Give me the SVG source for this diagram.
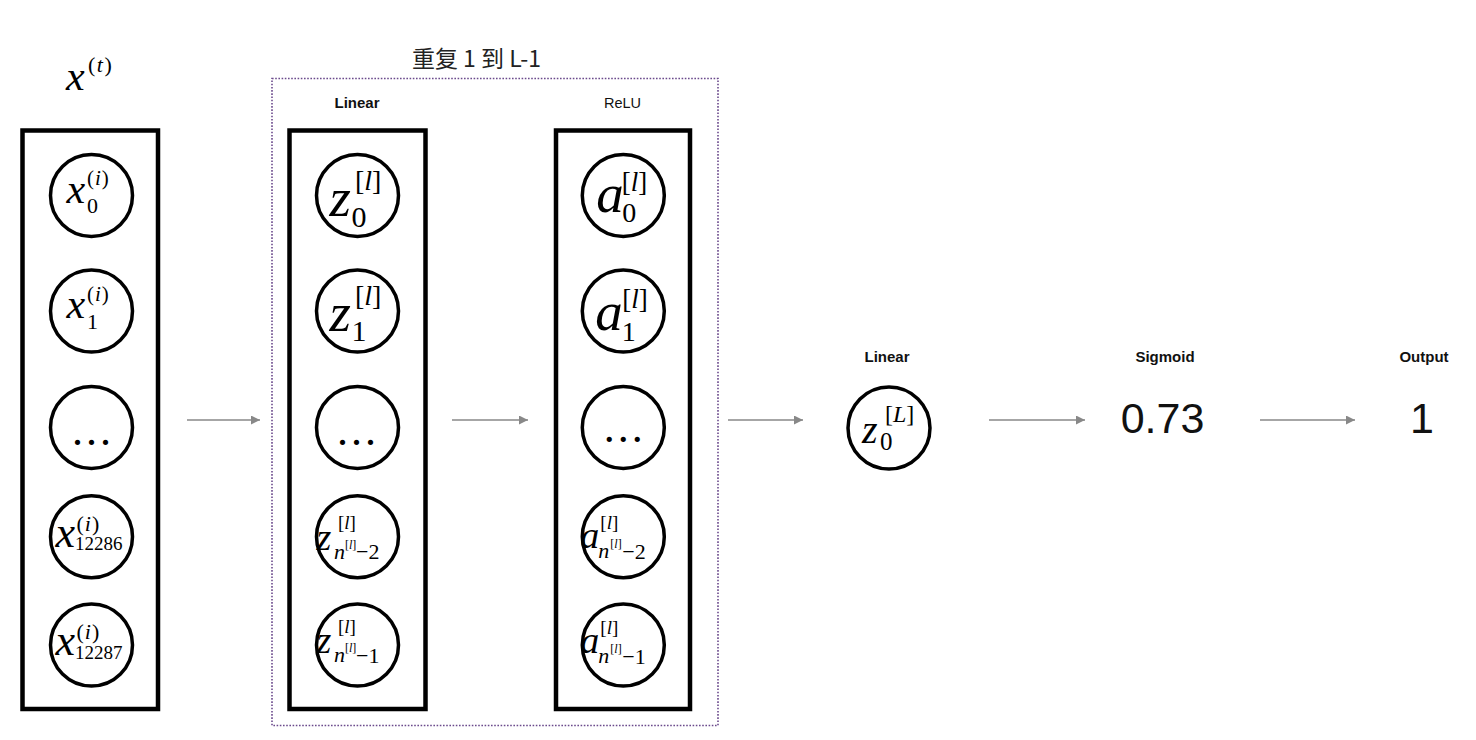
<svg xmlns="http://www.w3.org/2000/svg" width="1476" height="740" viewBox="0 0 1476 740">
<style>
.box{fill:none;stroke:#000;stroke-width:4.5}
.node{fill:#fff;stroke:#000;stroke-width:3.5}
.m{font-family:"Liberation Serif","Times New Roman",serif;font-style:italic;fill:#000}
.r{font-family:"Liberation Serif","Times New Roman",serif;font-style:normal;fill:#000}
.it{font-style:italic}
.lbl{font-family:"Liberation Sans",Arial,sans-serif;font-weight:bold;font-size:15px;fill:#111;text-anchor:middle}
.lbln{font-family:"Liberation Sans",Arial,sans-serif;font-size:14.5px;fill:#111;text-anchor:middle}
.big{font-family:"Liberation Sans",Arial,sans-serif;font-size:43px;fill:#111;text-anchor:middle}
.dots{font-family:"Liberation Serif",serif;font-size:44px;letter-spacing:3px;fill:#000}
.arrow{stroke:#888;stroke-width:1.6;fill:none;marker-end:url(#ah)}
</style>
<defs>
<marker id="ah" markerUnits="userSpaceOnUse" markerWidth="9" markerHeight="9" refX="9" refY="4.5" orient="auto">
<path d="M0,0 L9,4.5 L0,9 z" fill="#888"/>
</marker>
</defs>
<rect width="1476" height="740" fill="#fff"/>

<!-- titles -->
<g id="label-xt">
<text class="m" x="66" y="90" font-size="42">x</text>
<text class="r" x="88" y="71.5" font-size="22" letter-spacing="1.5">(<tspan class="it">t</tspan>)</text>
</g>
<text id="title-repeat" x="476.5" y="66.5" font-family="'Noto Sans CJK SC','Liberation Sans',sans-serif" font-size="23" fill="#222" text-anchor="middle">重复 1 到 L-1</text>
<rect id="repeat-box" x="272" y="78.5" width="446" height="647" fill="none" stroke="#6b4a8c" stroke-width="1.6" stroke-dasharray="1.6 1.6"/>
<text class="lbl" x="357" y="108">Linear</text>
<text class="lbln" x="622.5" y="108">ReLU</text>
<text class="lbl" x="887" y="361.5">Linear</text>
<text class="lbl" x="1165" y="361.5">Sigmoid</text>
<text class="lbl" x="1424" y="361.5">Output</text>

<!-- column boxes -->
<g id="input-layer">
<rect class="box" x="22.5" y="130.5" width="135.5" height="578.5"/>
<g id="x0" transform="translate(91.5,195.5)">
<circle class="node" r="41"/>
<text class="m" x="-25" y="7" font-size="42">x</text>
<text class="r" x="-4.5" y="-10.5" font-size="21" letter-spacing="1">(<tspan class="it">i</tspan>)</text>
<text class="r" x="-4.5" y="17.5" font-size="22">0</text>
</g>
<g id="x1" transform="translate(91.5,311)">
<circle class="node" r="41"/>
<text class="m" x="-25" y="7" font-size="42">x</text>
<text class="r" x="-4.5" y="-10.5" font-size="21" letter-spacing="1">(<tspan class="it">i</tspan>)</text>
<text class="r" x="-4.5" y="17.5" font-size="22">1</text>
</g>
<g id="xdots" transform="translate(91.5,427.5)">
<circle class="node" r="41"/>
<text class="dots" x="-19.5" y="17.5">...</text>
</g>
<g id="x12286" transform="translate(91.5,536.7)">
<circle class="node" r="41"/>
<text class="m" x="-36" y="10" font-size="44">x</text>
<text class="r" x="-15" y="-6" font-size="22" letter-spacing="1">(<tspan class="it">i</tspan>)</text>
<text class="r" x="-16.5" y="13.5" font-size="19">12286</text>
</g>
<g id="x12287" transform="translate(91.5,645)">
<circle class="node" r="41"/>
<text class="m" x="-36" y="10" font-size="44">x</text>
<text class="r" x="-15" y="-6" font-size="22" letter-spacing="1">(<tspan class="it">i</tspan>)</text>
<text class="r" x="-16.5" y="13.5" font-size="19">12287</text>
</g>
</g>

<g id="linear-layer">
<rect class="box" x="289.5" y="130.5" width="136" height="578.5"/>
<g id="z0" transform="translate(357.5,195.5)">
<circle class="node" r="41"/>
<text class="m" x="-28" y="20" font-size="55">z</text>
<text class="r" x="-2.5" y="-6" font-size="28">[<tspan class="it">l</tspan>]</text>
<text class="r" x="-6" y="31" font-size="30">0</text>
</g>
<g id="z1" transform="translate(357.5,311)">
<circle class="node" r="41"/>
<text class="m" x="-28" y="20" font-size="55">z</text>
<text class="r" x="-2.5" y="-6" font-size="28">[<tspan class="it">l</tspan>]</text>
<text class="r" x="-6" y="30" font-size="30">1</text>
</g>
<g id="zdots" transform="translate(357.5,427.5)">
<circle class="node" r="41"/>
<text class="dots" x="-20.5" y="17.5">...</text>
</g>
<g id="zn2" transform="translate(357.5,536.7)">
<circle class="node" r="41"/>
<text class="m" x="-41" y="13" font-size="38">z</text>
<text class="r" x="-19.5" y="-8" font-size="19">[<tspan class="it">l</tspan>]</text>
<text class="m" x="-23.5" y="22" font-size="22">n</text>
<text class="r" x="-12.5" y="12" font-size="12">[<tspan class="it">l</tspan>]</text>
<text class="r" x="-1.5" y="22.5" font-size="22">−2</text>
</g>
<g id="zn1" transform="translate(357.5,645)">
<circle class="node" r="41"/>
<text class="m" x="-41" y="8" font-size="38">z</text>
<text class="r" x="-19.5" y="-12" font-size="19">[<tspan class="it">l</tspan>]</text>
<text class="m" x="-23.5" y="17" font-size="22">n</text>
<text class="r" x="-12.5" y="7" font-size="12">[<tspan class="it">l</tspan>]</text>
<text class="r" x="-1.5" y="17.5" font-size="22">−1</text>
</g>
</g>

<g id="relu-layer">
<rect class="box" x="556" y="130.5" width="134" height="578.5"/>
<g id="a0" transform="translate(623.3,195.5)">
<circle class="node" r="41"/>
<text class="m" x="-27" y="16.5" font-size="55">a</text>
<text class="r" x="-1.5" y="-5" font-size="27">[<tspan class="it">l</tspan>]</text>
<text class="r" x="-1" y="26.5" font-size="28">0</text>
</g>
<g id="a1" transform="translate(623.3,311)">
<circle class="node" r="41"/>
<text class="m" x="-28" y="18.5" font-size="55">a</text>
<text class="r" x="-1" y="-3.5" font-size="27">[<tspan class="it">l</tspan>]</text>
<text class="r" x="-1.5" y="30" font-size="28">1</text>
</g>
<g id="adots" transform="translate(623.3,427.5)">
<circle class="node" r="41"/>
<text class="dots" x="-19.6" y="14.5">...</text>
</g>
<g id="an2" transform="translate(623.3,536.7)">
<circle class="node" r="41"/>
<text class="m" x="-43" y="11.5" font-size="38">a</text>
<text class="r" x="-23" y="-8" font-size="19">[<tspan class="it">l</tspan>]</text>
<text class="m" x="-25" y="21" font-size="22">n</text>
<text class="r" x="-13" y="11" font-size="12">[<tspan class="it">l</tspan>]</text>
<text class="r" x="-1" y="22" font-size="22">−2</text>
</g>
<g id="an1" transform="translate(623.3,645)">
<circle class="node" r="41"/>
<text class="m" x="-43" y="8" font-size="38">a</text>
<text class="r" x="-23" y="-11.5" font-size="19">[<tspan class="it">l</tspan>]</text>
<text class="m" x="-25" y="17.5" font-size="22">n</text>
<text class="r" x="-13" y="7.5" font-size="12">[<tspan class="it">l</tspan>]</text>
<text class="r" x="-1" y="18.5" font-size="22">−1</text>
</g>
</g>

<g id="zL" transform="translate(889,428)">
<circle class="node" r="41"/>
<text class="m" x="-27" y="15" font-size="40">z</text>
<text class="r" x="-4" y="-6" font-size="24">[<tspan class="it">L</tspan>]</text>
<text class="r" x="-9" y="22" font-size="25">0</text>
</g>
<text id="sigmoid-value" class="big" x="1162.5" y="432.5">0.73</text>
<text id="output-value" class="big" x="1422" y="432.5">1</text>

<g id="connectors">
<line class="arrow" x1="187" y1="420" x2="260" y2="420"/>
<line class="arrow" x1="452" y1="420" x2="528" y2="420"/>
<line class="arrow" x1="728" y1="420" x2="803" y2="420"/>
<line class="arrow" x1="989" y1="420" x2="1085" y2="420"/>
<line class="arrow" x1="1260" y1="420" x2="1355" y2="420"/>
</g>
</svg>
